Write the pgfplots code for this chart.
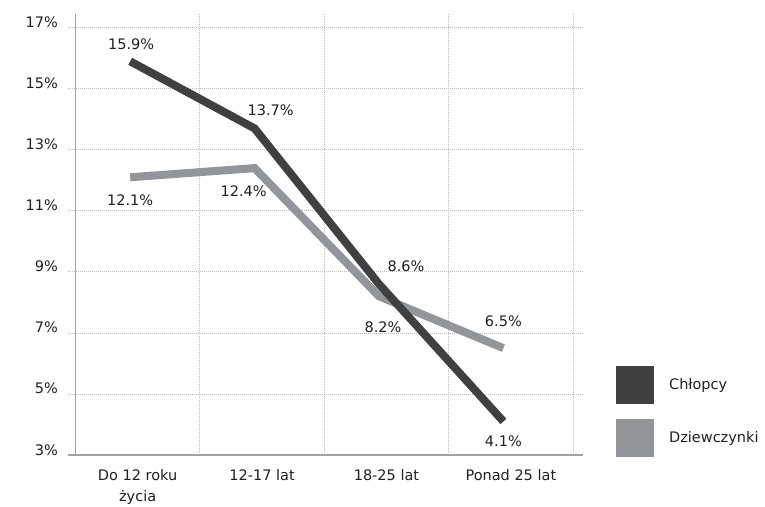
\documentclass[border=0pt]{standalone}
\usepackage{fontspec}
\setmainfont{DejaVu Sans}
\usepackage{pgfplots}
\pgfplotsset{compat=1.18}
\definecolor{boys}{HTML}{404040}
\definecolor{girls}{HTML}{939598}
\definecolor{gridc}{HTML}{BDBDBD}
\definecolor{axisc}{HTML}{A3A3A3}
\definecolor{txt}{HTML}{231F20}

\begin{document}
\begin{tikzpicture}[font=\fontsize{14.5}{21}\selectfont, text=txt]
\begin{axis}[
  scale only axis, width=515pt, height=441pt,
  xmin=-0.5, xmax=3.64, ymin=3, ymax=17.45,
  clip=false,
  axis line style={draw=none},
  major tick length=0pt, minor tick length=0pt,
  % category labels sit in the middle of each cell
  xtick={0.06,1.06,2.06,3.06},
  xticklabels={{Do 12 roku\\życia},{12-17 lat},{18-25 lat},{Ponad 25 lat}},
  xticklabel style={align=center, anchor=north, inner sep=0pt, yshift=-14pt,
    font=\fontsize{14.5}{21}\selectfont},
  minor xtick={0.56,1.56,2.56,3.56},
  xminorgrids=true,
  minor grid style={gridc, dash pattern=on 1pt off 1pt, line width=0.8pt},
  extra x ticks={-0.44}, extra x tick labels={},
  extra x tick style={xmajorgrids=true, major grid style={axisc, solid, line width=1.2pt}},
  ytick={5,7,9,11,13,15,17},
  yticklabels={5\%,7\%,9\%,11\%,13\%,15\%,17\%},
  ymajorgrids=true,
  major grid style={gridc, dash pattern=on 1pt off 1pt, line width=0.8pt},
  extra y ticks={3}, extra y tick labels={3\%},
  extra y tick style={ymajorgrids=true, major grid style={axisc, solid, line width=1.2pt}},
  yticklabel style={anchor=base east, inner sep=0pt, xshift=-10pt},
  legend image code/.code={\fill[#1, draw=none] (0pt,-19pt) rectangle (38pt,19pt);},
  reverse legend,
  legend style={draw=none, fill=none, inner sep=0pt,
    at={(axis description cs:1.064,0.202)}, anchor=north west,
    row sep=15pt, font=\fontsize{14.5}{16}\selectfont,
    nodes={inner sep=0pt},
    /tikz/every odd column/.append style={column sep=15pt}},
  legend cell align=left,
]
\addplot[girls, line width=8pt, line join=miter] coordinates {(0,12.1) (1,12.4) (2,8.2) (3,6.5)};
\addlegendentry{Dziewczynki}
\addplot[boys, line width=8pt, line join=miter] coordinates {(0,15.9) (1,13.7) (2,8.6) (3,4.1)};
\addlegendentry{Chłopcy}

% value labels
\node[xshift=1pt, yshift=17.5pt] at (axis cs:0,15.9) {15.9\%};
\node[xshift=16pt, yshift=18pt] at (axis cs:1,13.7) {13.7\%};
\node[xshift=27pt, yshift=18pt] at (axis cs:2,8.6) {8.6\%};
\node[xshift=0pt, yshift=-20pt] at (axis cs:3,4.1) {4.1\%};
\node[xshift=0pt, yshift=-22.5pt] at (axis cs:0,12.1) {12.1\%};
\node[xshift=-11pt, yshift=-23.5pt] at (axis cs:1,12.4) {12.4\%};
\node[xshift=4pt, yshift=-30.5pt] at (axis cs:2,8.2) {8.2\%};
\node[xshift=0pt, yshift=27pt] at (axis cs:3,6.5) {6.5\%};
\end{axis}
\path (current axis.south west) ++(-68pt,-51pt) rectangle ++(765pt,506pt);
\end{tikzpicture}
\end{document}
